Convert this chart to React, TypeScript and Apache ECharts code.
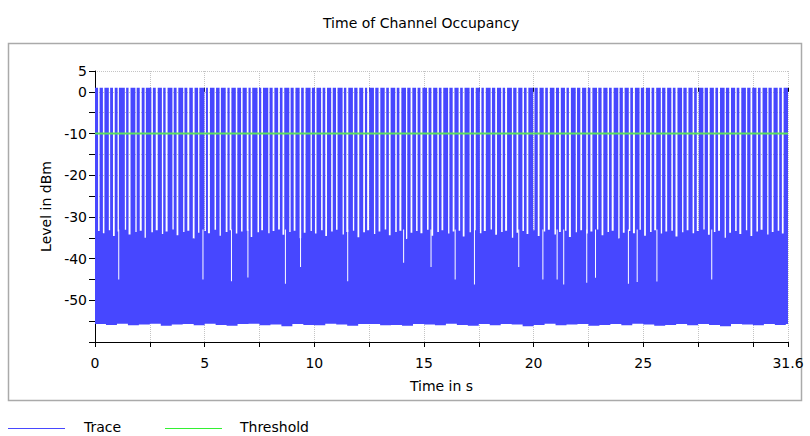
import React, { useEffect, useRef } from 'react';
import * as echarts from 'echarts';

// Axis setup (s / dBm)
const timeMax = 31.6;
const levelMin = -60;
const levelMax = 5;

// Detector threshold (dBm)
const thresholdLevel = -10;

// Burst peak level (dBm)
const burstPeak = 1.0;

// Occupied intervals [start s, end s, noise maximum in the following gap dBm]
const bursts: [number, number, number][] = [
  [0.0, 0.14, -33.4], [0.21, 0.36, -33.9], [0.43, 0.63, -33.2], [0.69, 0.82, -34.6], [0.9, 1.03, -33.5],
  [1.09, 1.36, -33.1], [1.42, 1.53, -34.2], [1.62, 1.84, -33.6], [1.9, 2.04, -33.3], [2.13, 2.26, -35.0],
  [2.32, 2.57, -33.7], [2.64, 2.77, -33.2], [2.86, 3.05, -34.1], [3.11, 3.22, -33.5], [3.31, 3.53, -33.0],
  [3.59, 3.72, -34.4], [3.8, 4.02, -33.6], [4.08, 4.21, -33.3], [4.3, 4.46, -35.2], [4.54, 4.7, -33.8],
  [4.76, 4.99, -33.4], [5.06, 5.15, -33.9], [5.24, 5.45, -33.1], [5.52, 5.68, -34.5], [5.74, 5.96, -33.6],
  [6.04, 6.14, -33.2], [6.22, 6.42, -34.0], [6.49, 6.66, -33.5], [6.73, 6.92, -33.3], [7.0, 7.1, -34.8],
  [7.17, 7.41, -33.7], [7.48, 7.58, -33.2], [7.66, 7.9, -33.9], [7.96, 8.1, -33.4], [8.18, 8.35, -33.0],
  [8.43, 8.55, -34.3], [8.63, 8.86, -33.6], [8.92, 9.06, -33.3], [9.14, 9.33, -35.1], [9.4, 9.52, -33.8],
  [9.6, 9.83, -33.4], [9.89, 10.03, -34.0], [10.1, 10.31, -33.2], [10.38, 10.5, -34.6], [10.58, 10.77, -33.5],
  [10.84, 10.99, -33.1], [11.06, 11.29, -34.2], [11.35, 11.46, -33.6], [11.55, 11.76, -33.3], [11.82, 11.97, -34.9],
  [12.05, 12.23, -33.7], [12.31, 12.41, -33.2], [12.5, 12.72, -34.1], [12.78, 12.93, -33.5], [13.01, 13.21, -33.0],
  [13.28, 13.4, -34.4], [13.48, 13.69, -33.6], [13.76, 13.88, -33.3], [13.97, 14.18, -35.3], [14.24, 14.39, -33.8],
  [14.47, 14.64, -33.4], [14.71, 14.84, -33.9], [14.93, 15.14, -33.1], [15.21, 15.34, -34.5], [15.42, 15.61, -33.6],
  [15.68, 15.8, -33.2], [15.88, 16.1, -34.0], [16.16, 16.31, -33.5], [16.39, 16.58, -33.3], [16.65, 16.77, -34.7],
  [16.85, 17.08, -33.7], [17.14, 17.28, -33.2], [17.36, 17.55, -33.9], [17.62, 17.73, -33.4], [17.82, 18.04, -33.0],
  [18.1, 18.25, -34.3], [18.33, 18.52, -33.6], [18.59, 18.7, -33.3], [18.79, 19.01, -35.0], [19.07, 19.22, -33.8],
  [19.3, 19.49, -33.4], [19.56, 19.68, -34.1], [19.76, 19.98, -33.2], [20.04, 20.19, -34.6], [20.27, 20.46, -33.5],
  [20.53, 20.65, -33.1], [20.74, 20.95, -34.2], [21.02, 21.16, -33.6], [21.24, 21.43, -33.3], [21.5, 21.61, -34.8],
  [21.7, 21.92, -33.7], [21.98, 22.13, -33.2], [22.21, 22.4, -34.0], [22.47, 22.59, -33.5], [22.68, 22.89, -33.0],
  [22.95, 23.1, -34.4], [23.18, 23.37, -33.6], [23.44, 23.56, -33.3], [23.65, 23.86, -35.2], [23.92, 24.07, -33.8],
  [24.15, 24.34, -33.4], [24.41, 24.53, -33.9], [24.62, 24.83, -33.1], [24.89, 25.04, -34.5], [25.12, 25.31, -33.6],
  [25.38, 25.5, -33.2], [25.59, 25.8, -34.0], [25.86, 26.01, -33.5], [26.09, 26.28, -33.3], [26.35, 26.47, -34.7],
  [26.56, 26.77, -33.7], [26.83, 26.98, -33.2], [27.06, 27.25, -33.9], [27.32, 27.44, -33.4], [27.53, 27.74, -33.0],
  [27.8, 27.95, -34.3], [28.03, 28.22, -33.6], [28.29, 28.41, -33.3], [28.5, 28.71, -35.0], [28.77, 28.92, -33.8],
  [29.0, 29.19, -33.4], [29.26, 29.38, -34.1], [29.47, 29.68, -33.2], [29.74, 29.89, -34.6], [29.97, 30.16, -33.5],
  [30.23, 30.35, -33.1], [30.44, 30.65, -34.2], [30.71, 30.86, -33.6], [30.94, 31.13, -33.3], [31.2, 31.32, -34.0],
  [31.4, 31.6, -33.5],
];

// Noise floor, one value per 0.5 s step (dBm)
const floorStep = 0.5;
const noiseFloor = [
  -55.7, -55.9, -55.6, -56.0, -55.8, -55.6, -56.1, -55.8, -55.7, -56.0,
  -55.6, -55.9, -56.1, -55.7, -55.6, -56.0, -55.8, -56.2, -55.7, -55.9,
  -56.0, -55.6, -55.8, -56.1, -55.7, -55.7, -56.0, -55.9, -56.1, -55.7,
  -55.8, -56.0, -55.6, -55.9, -56.1, -55.7, -56.0, -55.7, -55.8, -56.2,
  -55.9, -55.6, -56.0, -55.8, -55.7, -56.1, -55.9, -55.7, -56.0, -55.6,
  -55.8, -56.1, -55.9, -55.7, -56.0, -55.7, -55.9, -56.2, -55.7, -55.8,
  -56.0, -55.7, -55.9, -55.7,
];

// Short drops of the noise maximum [time s, level dBm]
const dips: [number, number][] = [
  [1.06, -45.0], [4.9, -45.0], [6.2, -45.4], [6.95, -44.5], [8.66, -46.0], [9.35, -42.0],
  [11.5, -45.4], [14.05, -41.0], [15.3, -42.0], [16.4, -45.0], [17.28, -46.2], [19.3, -42.0],
  [20.4, -45.0], [21.05, -45.0], [21.35, -46.2], [22.4, -45.8], [22.8, -44.6], [24.3, -46.0],
  [24.7, -45.6], [25.6, -45.5], [28.1, -45.0],
];

const BLUE = '#4747ff';
const GREEN = '#5ce05c';
const FONT = 'DejaVu Sans';

export default function App() {
  const ref = useRef<HTMLDivElement>(null);

  useEffect(() => {
    if (!ref.current) return;
    const chart = echarts.init(ref.current, undefined, { renderer: 'svg' });

    const gridLine = { show: true, lineStyle: { color: '#c4c4c4', type: [1, 1] as any, width: 1 } };

    const option: any = {
      animation: false,
      backgroundColor: '#ffffff',
      title: {
        text: 'Time of Channel Occupancy',
        left: 318,
        top: 11,
        textStyle: { fontFamily: FONT, fontSize: 14, fontWeight: 'normal', color: '#000' },
      },
      grid: { left: 95, right: 22, top: 71, bottom: 94, containLabel: false },
      xAxis: [
        {
          type: 'value',
          min: 0,
          max: timeMax,
          interval: 2.5,
          position: 'bottom',
          name: 'Time in s',
          nameLocation: 'middle',
          nameGap: 37,
          nameTextStyle: { fontFamily: FONT, fontSize: 14, color: '#000' },
          axisLine: { show: true, onZero: false, lineStyle: { color: '#000', width: 1 } },
          axisTick: { show: true, length: 5, lineStyle: { color: '#000' } },
          axisLabel: {
            fontFamily: FONT,
            fontSize: 14,
            color: '#000',
            margin: 14,
            formatter: (v: number) => {
              if (Math.abs(v - timeMax) < 1e-6) return String(timeMax);
              if (v % 5 === 0 && v < 30) return String(v);
              return '';
            },
          },
          splitLine: gridLine,
        },
        {
          type: 'value',
          min: 0,
          max: timeMax,
          interval: 2.5,
          position: 'bottom',
          axisLine: { show: false },
          axisTick: { show: true, inside: true, length: 4, lineStyle: { color: '#000' } },
          axisLabel: { show: false },
          splitLine: { show: false },
        },
      ],
      yAxis: {
        type: 'value',
        min: levelMin,
        max: levelMax,
        interval: 5,
        name: 'Level in dBm',
        nameLocation: 'middle',
        nameGap: 42,
        nameTextStyle: { fontFamily: FONT, fontSize: 14, color: '#000' },
        axisLine: { show: true, onZero: false, lineStyle: { color: '#000', width: 1 } },
        axisTick: { show: true, length: 6, lineStyle: { color: '#000' } },
        axisLabel: {
          fontFamily: FONT,
          fontSize: 14,
          color: '#000',
          margin: 8,
          formatter: (v: number) => (v === levelMax || (v % 10 === 0 && v > levelMin) ? String(v) : ''),
        },
        splitLine: gridLine,
      },
      graphic: [
        {
          type: 'rect',
          z: -10,
          shape: { x: 8.5, y: 43.5, width: 793, height: 357 },
          style: { fill: 'none', stroke: '#aaaaaa', lineWidth: 1.5 },
        },
        { type: 'line', shape: { x1: 8, y1: 428.5, x2: 65, y2: 428.5 }, style: { stroke: BLUE, lineWidth: 1 } },
        {
          type: 'text', x: 84, y: 427,
          style: { text: 'Trace', fontFamily: FONT, fontSize: 14, fill: '#000', verticalAlign: 'middle' },
        },
        { type: 'line', shape: { x1: 165, y1: 428.5, x2: 222, y2: 428.5 }, style: { stroke: '#33f033', lineWidth: 1 } },
        {
          type: 'text', x: 240, y: 427,
          style: { text: 'Threshold', fontFamily: FONT, fontSize: 14, fill: '#000', verticalAlign: 'middle' },
        },
      ],
      series: [
        {
          // max envelope (bursts and gap noise) closed by the stepped noise floor
          name: 'Trace',
          type: 'custom',
          z: 2,
          data: [[0]],
          renderItem: (_params: any, api: any) => {
            const pts: number[][] = [];
            bursts.forEach(([s, e, g], i) => {
              if (i > 0) pts.push(api.coord([s, bursts[i - 1][2]]));
              pts.push(api.coord([s, burstPeak]));
              pts.push(api.coord([e, burstPeak]));
              if (e < timeMax) pts.push(api.coord([e, g]));
            });
            for (let i = noiseFloor.length - 1; i >= 0; i--) {
              const a = i * floorStep;
              if (a >= timeMax) continue;
              const b = Math.min((i + 1) * floorStep, timeMax);
              pts.push(api.coord([b, noiseFloor[i]]));
              pts.push(api.coord([a, noiseFloor[i]]));
            }
            return { type: 'polygon', shape: { points: pts }, style: { fill: BLUE }, silent: true };
          },
        },
        {
          // drops of the noise maximum
          name: 'Trace',
          type: 'custom',
          z: 4,
          data: dips.map(([t, l]) => [t, l]),
          renderItem: (_params: any, api: any) => {
            const p0 = api.coord([api.value(0), -33]);
            const p1 = api.coord([api.value(0), api.value(1)]);
            return {
              type: 'rect',
              shape: { x: p0[0], y: p0[1], width: 1, height: p1[1] - p0[1] },
              style: { fill: '#ffffff' },
              silent: true,
            };
          },
        },
        {
          name: 'Threshold',
          type: 'line',
          z: 5,
          symbol: 'none',
          data: [[0, thresholdLevel], [timeMax, thresholdLevel]],
          lineStyle: { color: GREEN, width: 2 },
          silent: true,
        },
      ],
    };

    chart.setOption(option);
    return () => chart.dispose();
  }, []);

  return <div ref={ref} style={{ position: 'fixed', left: 0, top: 0, width: 810, height: 436 }} />;
}
